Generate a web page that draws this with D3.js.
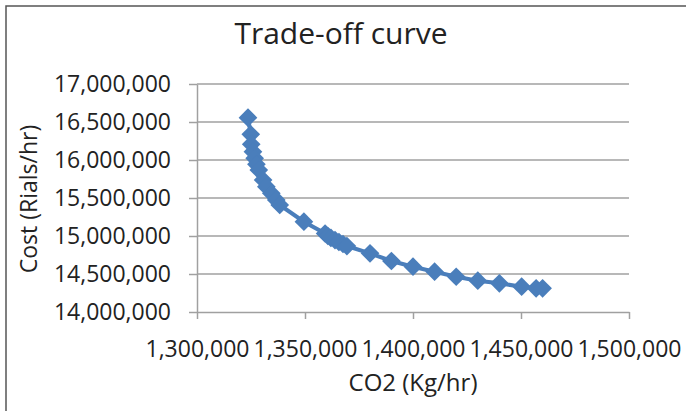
<!DOCTYPE html>
<html>
<head>
<meta charset="utf-8">
<script src="https://cdn.jsdelivr.net/npm/d3@7"></script>
<style>
  body { margin: 0; background: #fff; }
  text { font-family: "Open Sans", "Noto Sans", sans-serif; fill: #222; }
</style>
</head>
<body>
<div class="canvas"></div>
<script>
// data
const co2 = [1323600, 1324900, 1325100, 1325900, 1326700, 1327500, 1328600, 1330600, 1332100, 1334400,
  1336700, 1338300, 1349500, 1359300, 1360600, 1362000, 1363900, 1365700, 1367600, 1369400,
  1380100, 1390000, 1400000, 1410000, 1420000, 1430000, 1440000, 1450300, 1457000, 1460000];
const cost = [16557000, 16338000, 16207000, 16109000, 16022000, 15943000, 15868000, 15737000, 15649000, 15562000,
  15474000, 15408000, 15188000, 15033000, 15000000, 14974000, 14947000, 14921000, 14895000, 14868000,
  14772000, 14671000, 14596000, 14530000, 14464000, 14412000, 14377000, 14333000, 14312000, 14312000];
const xTicks = [1300000, 1350000, 1400000, 1450000, 1500000];
const yTicks = [14000000, 14500000, 15000000, 15500000, 16000000, 16500000, 17000000];

const points = co2.map((c, i) => ({x: c, y: cost[i]}));

const dims = {width: 686, height: 411};
const plot = {left: 197, right: 629, top: 84, bottom: 312};

const svg = d3.select('.canvas')
  .append('svg')
  .attr('width', dims.width)
  .attr('height', dims.height);

// chart border (only left/top visible in the picture)
svg.append('rect')
  .attr('x', 6).attr('y', 6)
  .attr('width', 720).attr('height', 440)
  .attr('fill', 'none')
  .attr('stroke', '#555')
  .attr('stroke-width', 1.5);

const x = d3.scaleLinear().domain([1300000, 1500000]).range([plot.left, plot.right]);
const y = d3.scaleLinear().domain([14000000, 17000000]).range([plot.bottom, plot.top]);
const fmt = d3.format(',');

// gridlines
svg.append('g')
  .selectAll('line')
  .data(yTicks.slice(1))
  .enter().append('line')
  .attr('x1', plot.left).attr('x2', plot.right)
  .attr('y1', d => y(d)).attr('y2', d => y(d))
  .attr('stroke', '#a0a0a0').attr('stroke-width', 1.5);

// axes
const yAxis = svg.append('g')
  .attr('transform', `translate(${plot.left},0)`)
  .call(d3.axisLeft(y).tickValues(yTicks).tickFormat(fmt).tickSize(8).tickSizeOuter(0).tickPadding(18));

const xAxis = svg.append('g')
  .attr('transform', `translate(0,${plot.bottom})`)
  .call(d3.axisBottom(x).tickValues(xTicks).tickFormat(fmt).tickSize(7).tickSizeOuter(0).tickPadding(22));

[xAxis, yAxis].forEach(a => {
  a.select('.domain').attr('stroke', '#a0a0a0').attr('stroke-width', 1.5);
  a.selectAll('.tick line').attr('stroke', '#a0a0a0').attr('stroke-width', 1.5);
  a.selectAll('.tick text')
    .style('font-family', '"Open Sans", sans-serif')
    .style('font-size', '23px')
    .attr('fill', '#222');
});

// line
const line = d3.line().x(d => x(d.x)).y(d => y(d.y));
svg.append('path')
  .datum(points)
  .attr('fill', 'none')
  .attr('stroke', '#4a7ebb')
  .attr('stroke-width', 4)
  .attr('d', line);

// diamond markers
const diamond = d3.symbol().type(d3.symbolSquare).size(175);
svg.append('g')
  .selectAll('path')
  .data(points)
  .enter().append('path')
  .attr('d', diamond)
  .attr('transform', d => `translate(${x(d.x)},${y(d.y)}) rotate(45)`)
  .attr('fill', '#4a7ebb');

// titles
svg.append('text')
  .attr('x', 341).attr('y', 44)
  .attr('text-anchor', 'middle')
  .style('font-size', '30px')
  .text('Trade-off curve');

svg.append('text')
  .attr('x', 413).attr('y', 391)
  .attr('text-anchor', 'middle')
  .style('font-size', '24px')
  .text('CO2 (Kg/hr)');

svg.append('text')
  .attr('transform', 'translate(37,199) rotate(-90)')
  .attr('text-anchor', 'middle')
  .style('font-size', '23px')
  .text('Cost (Rials/hr)');
</script>
</body>
</html>
